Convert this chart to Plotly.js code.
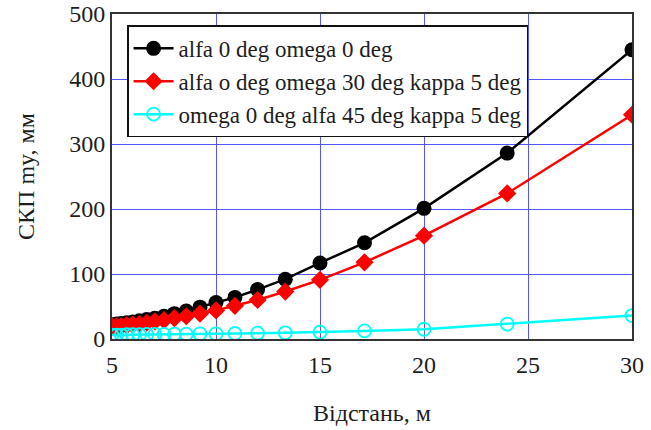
<!DOCTYPE html>
<html>
<head>
<meta charset="utf-8">
<script src="https://cdn.plot.ly/plotly-3.0.1.min.js"></script>
<style>
  html, body { margin: 0; padding: 0; background: #fff; }
  #chart { width: 651px; height: 430px; }
</style>
</head>
<body>
<div id="chart"></div>
<script>
// Distance, m
const distance = [30, 24, 20, 17.14, 15, 13.33, 12, 10.91, 10, 9.23, 8.57, 8, 7.5, 7.06, 6.67, 6.32, 6, 5.71, 5.45, 5.22, 5];

// RMS error my, mm
const alfa0Omega0 = [445, 286, 201, 148, 117, 92, 76, 64, 56, 49, 43, 39, 35, 32, 30, 28, 26, 25, 24, 23, 22];
const alfa0Omega30Kappa5 = [345, 224, 159, 118, 91, 73, 60, 51, 44, 39, 35, 32, 29, 27, 25, 23, 22, 21, 20, 19.5, 19];
const omega0Alfa45Kappa5 = [36, 23, 15, 12.5, 10.5, 9.5, 9, 8.5, 8, 8, 7.5, 7.5, 7, 7, 7, 6.5, 6.5, 6.5, 6, 6, 6];

const seriesNames = [
  'alfa 0 deg omega 0 deg',
  'alfa o deg omega 30 deg kappa 5 deg',
  'omega 0 deg alfa 45 deg kappa 5 deg'
];

const xTicks = [5, 10, 15, 20, 25, 30];
const yTicks = [0, 100, 200, 300, 400, 500];

const serif = 'Liberation Serif, Times New Roman, serif';
const ink = '#1e1e1e';

const traces = [
  {
    x: distance, y: alfa0Omega0, name: seriesNames[0],
    mode: 'lines+markers', type: 'scatter',
    line: { color: '#000000', width: 2.5 },
    marker: { symbol: 'circle', size: 15, color: '#000000' }
  },
  {
    x: distance, y: alfa0Omega30Kappa5, name: seriesNames[1],
    mode: 'lines+markers', type: 'scatter',
    line: { color: '#ff0000', width: 2.5 },
    marker: { symbol: 'diamond', size: 14, color: '#ff0000' }
  },
  {
    x: distance, y: omega0Alfa45Kappa5, name: seriesNames[2],
    mode: 'lines+markers', type: 'scatter',
    line: { color: '#00ffff', width: 2.5 },
    marker: { symbol: 'circle-open', size: 13, color: '#00ffff', line: { width: 1.8, color: '#00ffff' } }
  }
];

const layout = {
  width: 651, height: 430,
  margin: { l: 112, r: 19, t: 14, b: 91 },
  paper_bgcolor: '#ffffff', plot_bgcolor: '#ffffff',
  font: { family: serif, size: 24, color: ink },
  showlegend: true,
  legend: {
    x: 0.029, y: 0.965, xanchor: 'left', yanchor: 'top',
    bgcolor: '#ffffff', bordercolor: '#111111', borderwidth: 1.5,
    font: { family: serif, size: 23, color: ink },
    tracegroupgap: 0, itemwidth: 40
  },
  xaxis: {
    range: [5, 30], tickvals: xTicks, ticktext: xTicks.map(String),
    showgrid: true, gridcolor: '#5555ff', gridwidth: 1,
    zeroline: false, showline: true, linecolor: '#333333', linewidth: 2, mirror: true,
    ticks: '', ticklabelstandoff: 3, ticklabeloverflow: 'allow',
    tickfont: { family: serif, size: 24, color: ink },
    title: { text: 'Відстань, м', font: { family: serif, size: 24, color: ink }, standoff: 27 }
  },
  yaxis: {
    range: [0, 500], tickvals: yTicks, ticktext: yTicks.map(String),
    showgrid: true, gridcolor: '#5555ff', gridwidth: 1,
    zeroline: false, showline: true, linecolor: '#333333', linewidth: 2, mirror: true,
    ticks: '', ticklabeloverflow: 'allow',
    tickfont: { family: serif, size: 24, color: ink },
    title: { text: 'СКП my, мм', font: { family: serif, size: 24, color: ink }, standoff: 28 }
  }
};

Plotly.newPlot('chart', traces, layout, { displayModeBar: false, staticPlot: true });
</script>
</body>
</html>
